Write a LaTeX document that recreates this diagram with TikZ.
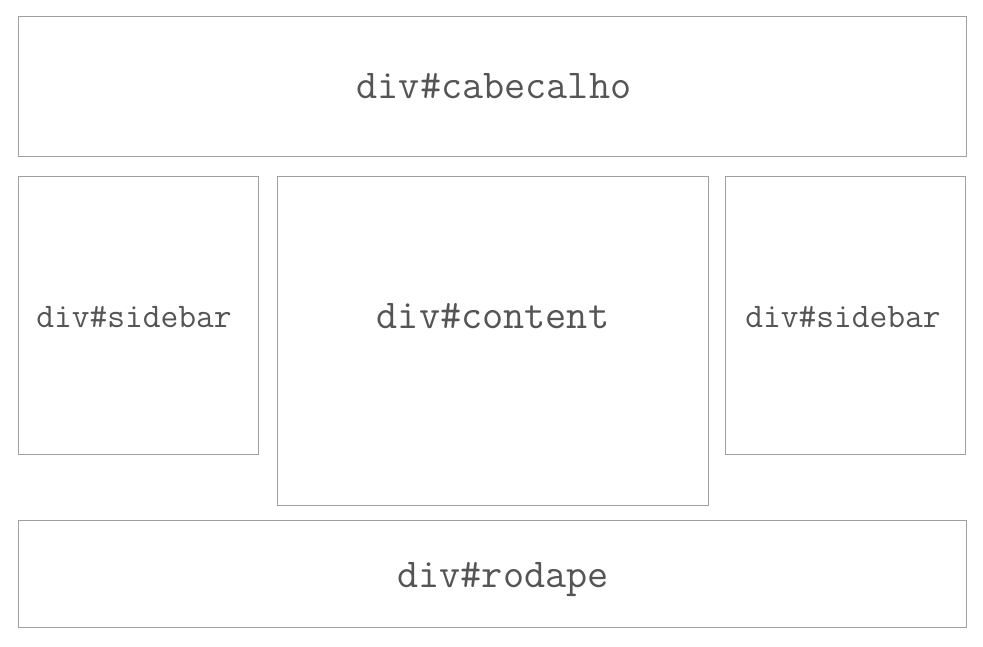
\documentclass[tikz,border=0pt]{standalone}
\usepackage{fontspec}
\definecolor{boxline}{HTML}{A0A0A0}
\definecolor{txt}{HTML}{555555}
\begin{document}
\begin{tikzpicture}[x=1pt,y=-1pt,
  box/.style={draw=boxline, line width=1pt, inner sep=0pt, outer sep=0pt, anchor=north west},
  bigtxt/.style={text=txt, anchor=base, inner sep=0pt, font=\ttfamily\fontsize{41}{48}\selectfont},
  smalltxt/.style={text=txt, anchor=base, inner sep=0pt, font=\ttfamily\fontsize{34.5}{40}\selectfont}]
\useasboundingbox (0,0) rectangle (983,647);
\node[box, minimum width=948pt, minimum height=140pt] (header) at (18,17) {};
\node[box, minimum width=240pt, minimum height=277pt] (sideL) at (18,177) {};
\node[box, minimum width=431pt, minimum height=328pt] (content) at (277,177) {};
\node[box, minimum width=240pt, minimum height=277pt] (sideR) at (725,177) {};
\node[box, minimum width=948pt, minimum height=107pt] (footer) at (18,520) {};
\node[bigtxt] (theader) at (494,99) {div\#cabecalho};
\node[smalltxt] (tsideL) at (134,327.5) {div\#sidebar};
\node[bigtxt] (tcontent) at (493,328) {div\#content};
\node[smalltxt] (tsideR) at (843,327.5) {div\#sidebar};
\node[bigtxt] (tfooter) at (503,587) {div\#rodape};
\end{tikzpicture}
\end{document}
